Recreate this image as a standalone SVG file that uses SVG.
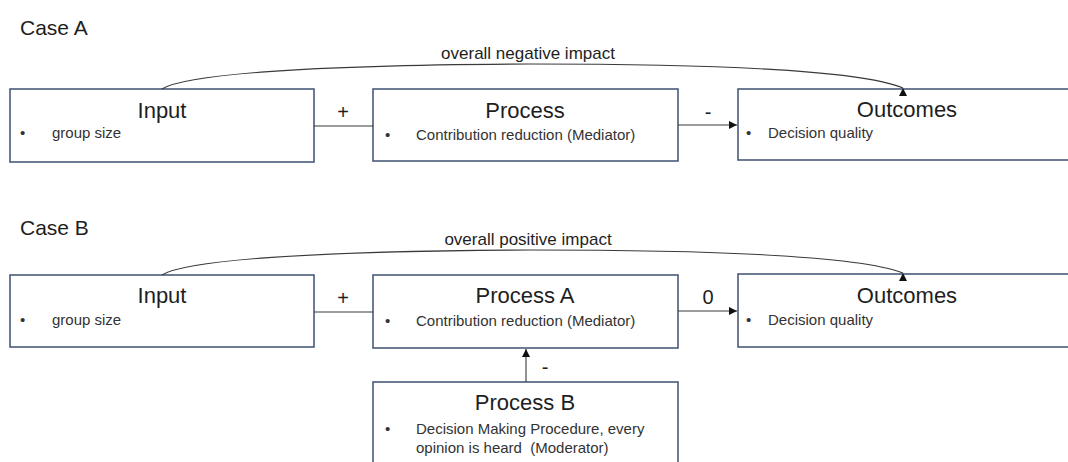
<svg xmlns="http://www.w3.org/2000/svg" width="1068" height="462" viewBox="0 0 1068 462">
<style>
text{font-family:"Liberation Sans",Arial,sans-serif;fill:#1e1e1e}
.case{font-size:21px}
.title{font-size:22px;text-anchor:middle}
.item{font-size:15px;fill:#333;white-space:pre}
.lbl{font-size:20px;text-anchor:middle}
.imp{font-size:17px;text-anchor:middle}
.box{fill:#fff;stroke:#4a5a7a;stroke-width:1.6}
.con{fill:none;stroke:#3a3a3a;stroke-width:1.1}
</style>
<defs>
<marker id="ah" markerUnits="userSpaceOnUse" markerWidth="9" markerHeight="9" refX="8" refY="4" orient="auto"><path d="M0,0 L8,4 L0,8 z" fill="#111"/></marker>
<marker id="up" markerUnits="userSpaceOnUse" markerWidth="9" markerHeight="9" refX="8" refY="4" orient="270"><path d="M0,0 L8,4 L0,8 z" fill="#111"/></marker>
</defs>
<text class="case" x="20" y="35">Case A</text>
<text class="case" x="20" y="235">Case B</text>
<g id="inputA"><rect class="box" x="10" y="89" width="304" height="73"/><text class="title" x="162" y="118">Input</text><text class="item" x="20" y="138">•</text><text class="item" x="52" y="138">group size</text></g>
<g id="processA1"><rect class="box" x="373" y="89" width="305" height="72"/><text class="title" x="525" y="118">Process</text><text class="item" x="385" y="140">•</text><text class="item" x="416" y="140">Contribution reduction (Mediator)</text></g>
<g id="outcomesA"><rect class="box" x="738" y="89" width="340" height="71"/><text class="title" x="907" y="117">Outcomes</text><text class="item" x="746" y="138">•</text><text class="item" x="768" y="138">Decision quality</text></g>
<g id="inputB"><rect class="box" x="10" y="275" width="304" height="72"/><text class="title" x="162" y="303">Input</text><text class="item" x="20" y="325">•</text><text class="item" x="52" y="325">group size</text></g>
<g id="processA2"><rect class="box" x="373" y="275" width="305" height="73"/><text class="title" x="525" y="303">Process A</text><text class="item" x="385" y="326">•</text><text class="item" x="416" y="326">Contribution reduction (Mediator)</text></g>
<g id="outcomesB"><rect class="box" x="738" y="274" width="340" height="73"/><text class="title" x="907" y="303">Outcomes</text><text class="item" x="746" y="325">•</text><text class="item" x="768" y="325">Decision quality</text></g>
<g id="processB"><rect class="box" x="373" y="382" width="305" height="100"/><text class="title" x="525" y="410">Process B</text><text class="item" x="385" y="434">•</text><text class="item" x="416" y="434">Decision Making Procedure, every</text><text class="item" x="416" y="453">opinion is heard  (Moderator)</text></g>
<g id="connectors">
<path class="con" d="M314,126 L373,126"/>
<path class="con" d="M678,125 L737,125" marker-end="url(#ah)"/>
<path class="con" d="M162,89 C185,75 300,65 530,64 C720,64 860,70 903,88" marker-end="url(#up)"/>
<path class="con" d="M314,312 L373,312"/>
<path class="con" d="M678,311 L737,311" marker-end="url(#ah)"/>
<path class="con" d="M526,382 L526,349" marker-end="url(#ah)"/>
<path class="con" d="M162,275 C185,261 300,251 530,250 C720,250 860,256 903,273" marker-end="url(#up)"/>
<text class="lbl" x="343" y="119">+</text>
<text class="lbl" x="708" y="119">-</text>
<text class="lbl" x="343" y="305">+</text>
<text class="lbl" x="708" y="304">0</text>
<text class="lbl" x="545" y="374">-</text>
<text class="imp" x="528" y="59">overall negative impact</text>
<text class="imp" x="528" y="245">overall positive impact</text>
</g>
</svg>
